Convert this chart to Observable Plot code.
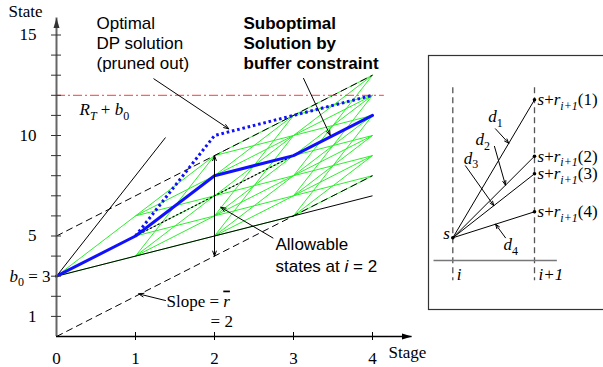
<!DOCTYPE html>
<html><head><meta charset="utf-8">
<script src="https://cdn.jsdelivr.net/npm/d3@7"></script>
<script src="https://cdn.jsdelivr.net/npm/@observablehq/plot@0.6"></script>
<style>
html,body{margin:0;padding:0;background:#fff;}
#wrap{position:relative;width:603px;height:367px;overflow:hidden;background:#fff;}
#main,#inset{position:absolute;}
#main{left:0;top:0;width:603px;height:367px;}
#inset{left:420px;top:47px;width:250px;height:270px;}
#wrap svg{max-width:none !important;}
</style></head><body>
<div id="wrap"><div id="main"></div><div id="inset"></div></div>
<script>
// ---------------- data ----------------
const stages = [0, 1, 2, 3, 4];
const b0 = 3;                       // initial buffer state
const rates = [5, 3, 2, 1];         // r(1)..r(4): state increments per stage
const rbar = 2;                     // average slope of the allowable band
const bandLow = 0;                  // intercept of lower dashed bound
const bandHigh = 5;                 // intercept of upper dashed bound
const RTplusB0 = 12;                // R_T + b0 level
const optimalPath = [3, 5, 10, 11, 12];
const suboptimalPath = [3, 5, 8, 9, 11];
const minRate = 1;
const maxRate = 5;
const maxRateEnd = 1.38;            // stage where the steep max-rate line stops
const redEnd = 4.15;
const averagePath = [{x: 1, y: 5}, {x: 3, y: 9}];
const yTicks = [1,2,3,4,5,6,7,8,9,10,11,12,13,14,15];
const yTickLabels = [1, 5, 10, 15];
const xTicks = [1, 2, 3, 4];
const xTickLabels = [0, 1, 2, 3, 4];
const yAxisTop = 15.85;
const xAxisEnd = 4.5;
const allowStage = 2, allowLow = 4, allowHigh = 9, allowMid = 6.5;

// inset (schematic, in its own units)
const insetRates = [6.9, 4.08, 3.2, 1.3];
const insetKeys = ["(1)", "(2)", "(3)", "(4)"];
const insetArrowT = [0.685, 0.645, 0.502, 0.523];
const insetArrowTails = [[0.522, 5.45], [0.51, 4.57], [0.155, 3.6], [0.645, 0.0]];
const insetDLabels = [[0.435, 6.38], [0.277, 5.22], [0.134, 4.3], [0.622, -0.03]];

const SERIF = "Liberation Serif, Times New Roman, serif";
const SANS = "Liberation Sans, Arial, Helvetica, sans-serif";
const GREEN = "#2def2d";
const BLUE = "#1010ff";

// ---------------- lattice edges from rates ----------------
const edges = [];
let level = [b0];
for (let i = 1; i < stages.length; i++) {
  const lo = bandLow + rbar * stages[i], hi = bandHigh + rbar * stages[i];
  const next = new Set();
  for (const s of level) for (const r of rates) {
    const t = s + r;
    if (t >= lo && t <= hi) { edges.push({x1: stages[i-1], y1: s, x2: stages[i], y2: t}); next.add(t); }
  }
  level = [...next];
}
const boundSolid = [
  {x1: 0, y1: b0, x2: 4, y2: b0 + minRate * 4},
  {x1: 0, y1: b0, x2: maxRateEnd, y2: b0 + maxRate * maxRateEnd}
];
const boundDashed = [
  {x1: 0, y1: bandLow, x2: 4, y2: bandLow + rbar * 4},
  {x1: 0, y1: bandHigh, x2: 4, y2: bandHigh + rbar * 4}
];
const subPts = stages.map((x, k) => ({x, y: suboptimalPath[k]}));
const optPts = stages.map((x, k) => ({x, y: optimalPath[k]})).slice(1);

const arrows = [
  {x1: 1.232, y1: 12.82, x2: 2.181, y2: 10.33},
  {x1: 3.127, y1: 12.84, x2: 3.464, y2: 10.01},
  {x1: 2.74, y1: 4.9, x2: 2.08, y2: 6.43},
  {x1: 1.38, y1: 1.79, x2: 1.04, y2: 2.12},
  {x1: allowStage, y1: allowMid, x2: allowStage, y2: allowHigh},
  {x1: allowStage, y1: allowMid, x2: allowStage, y2: allowLow}
];

const arrowHead = { draw(ctx) { ctx.moveTo(0, 0); ctx.lineTo(-3, 10); ctx.lineTo(3, 10); ctx.closePath(); } };

const main = Plot.plot({
  width: 603, height: 367,
  marginLeft: 56, marginRight: 231, marginTop: 34.5, marginBottom: 31,
  x: {domain: [0, 4], label: null},
  y: {domain: [0, 15], label: null},
  style: {fontFamily: SERIF, fontSize: "17px", background: "transparent"},
  marks: [
    Plot.link(edges, {x1: "x1", y1: "y1", x2: "x2", y2: "y2", stroke: GREEN, strokeWidth: 1}),
    Plot.link(boundSolid, {x1: "x1", y1: "y1", x2: "x2", y2: "y2", stroke: "#000", strokeWidth: 1}),
    Plot.link(boundDashed, {x1: "x1", y1: "y1", x2: "x2", y2: "y2", stroke: "#000", strokeWidth: 1, strokeDasharray: "7,4"}),
    Plot.line(averagePath, {x: "x", y: "y", stroke: "#000", strokeWidth: 1.2, strokeDasharray: "1.2,3"}),
    Plot.ruleY([RTplusB0], {x1: 0, x2: redEnd, stroke: "#ff3b3b", strokeWidth: 1, strokeDasharray: "9,3,2,3"}),
    Plot.line(subPts, {x: "x", y: "y", stroke: BLUE, strokeWidth: 3, strokeLinejoin: "round"}),
    Plot.line(optPts, {x: "x", y: "y", stroke: BLUE, strokeWidth: 3, strokeDasharray: "2.6,2.8", strokeLinecap: "butt"}),
    // axes
    Plot.ruleX([0], {y1: 0, y2: yAxisTop, stroke: "#666", strokeWidth: 2}),
    Plot.ruleY([0], {x1: 0, x2: xAxisEnd, stroke: "#000", strokeWidth: 1.3}),
    Plot.dot([{x: 0, y: yAxisTop}], {x: "x", y: "y", symbol: arrowHead, fill: "#333", stroke: "none"}),
    Plot.dot([{x: xAxisEnd, y: 0}], {x: "x", y: "y", symbol: arrowHead, fill: "#000", stroke: "none", rotate: 90}),
    Plot.axisY(yTicks, {anchor: "left", tickSize: 10, dx: 5, tickPadding: 15, label: null,
      tickFormat: d => yTickLabels.includes(d) ? String(d) : "", fontSize: 17, fontFamily: SERIF, stroke: "#333"}),
    Plot.axisX(xTicks, {anchor: "bottom", tickSize: 8, dy: -4, label: null, tickFormat: () => ""}),
    Plot.axisX(xTickLabels, {anchor: "bottom", tickSize: 0, tickPadding: 15.6, label: null, fontSize: 17, fontFamily: SERIF}),
    // annotation arrows
    Plot.arrow(arrows, {x1: "x1", y1: "y1", x2: "x2", y2: "y2", stroke: "#000", strokeWidth: 1, headLength: 8, headAngle: 40}),
    // texts
    Plot.text([{x: 0.506, y: 15.99, t: "Optimal\nDP solution\n(pruned out)"}], {x: "x", y: "y", text: "t", textAnchor: "start", lineAnchor: "top", lineHeight: 1.18, fontFamily: SANS, fontSize: 17}),
    Plot.text([{x: 2.367, y: 15.99, t: "Suboptimal\nSolution by\nbuffer constraint"}], {x: "x", y: "y", text: "t", textAnchor: "start", lineAnchor: "top", lineHeight: 1.18, fontFamily: SANS, fontSize: 17, fontWeight: "bold"}),
    Plot.text([{x: 2.772, y: 5.04, t: "Allowable\nstates at i = 2"}], {x: "x", y: "y", text: "t", textAnchor: "start", lineAnchor: "top", lineHeight: 1.26, fontFamily: SANS, fontSize: 17}),
    Plot.text([
      {x: -0.608, y: 16.49, t: "State"},
      {x: 4.203, y: -0.45, t: "Stage"},
      {x: 0.291, y: 11.6, t: "RT + b0"},
      {x: 1.392, y: 2.09, t: "Slope = rbar"},
      {x: 1.95, y: 1.05, t: "= 2"}
    ], {x: "x", y: "y", text: "t", textAnchor: "start", lineAnchor: "top", fontFamily: SERIF, fontSize: 17}),
    Plot.text([{x: -0.076, y: b0, t: "b0 = 3"}], {x: "x", y: "y", text: "t", textAnchor: "end", lineAnchor: "middle", fontFamily: SERIF, fontSize: 17})
  ]
});
document.getElementById("main").appendChild(main);

// ---------------- inset ----------------
const insetEnds = insetRates.map((r, k) => ({x: 1, y: r, key: "s+r" + "i+1" + insetKeys[k]}));
const insetLinks = insetRates.map(r => ({x1: 0, y1: 0, x2: 1, y2: r}));
const insetArrows = insetRates.map((r, k) => ({x1: insetArrowTails[k][0], y1: insetArrowTails[k][1], x2: insetArrowT[k], y2: insetArrowT[k] * r}));
const insetD = insetDLabels.map((p, k) => ({x: p[0], y: p[1], t: "d" + (k + 1)}));

const inset = Plot.plot({
  width: 250, height: 270,
  marginLeft: 8, marginTop: 8, marginRight: 62, marginBottom: 8,
  x: {domain: [0, 1], range: [32.3, 114], label: null, axis: null},
  y: {domain: [0, 1], range: [190.3, 170.3], label: null, axis: null},
  style: {fontFamily: SERIF, fontSize: "17px", background: "transparent", overflow: "visible", maxWidth: "none"},
  marks: [
    Plot.frame({stroke: "#333", strokeWidth: 1.2}),
    Plot.ruleX([0, 1], {y1: 7.5, y2: -2.15, stroke: "#555", strokeWidth: 1.3, strokeDasharray: "6,4"}),
    Plot.ruleY([-1.13], {x1: -0.23, x2: 1.28, stroke: "#777", strokeWidth: 1.5}),
    Plot.link(insetLinks, {x1: "x1", y1: "y1", x2: "x2", y2: "y2", stroke: "#000", strokeWidth: 1}),
    Plot.dot([{x: 0, y: 0}, ...insetEnds], {x: "x", y: "y", r: 1.8, fill: "#000", stroke: "none"}),
    Plot.arrow(insetArrows, {x1: "x1", y1: "y1", x2: "x2", y2: "y2", stroke: "#000", strokeWidth: 1, headLength: 7, headAngle: 40}),
    Plot.text(insetEnds, {x: "x", y: "y", text: "key", textAnchor: "start", lineAnchor: "middle", dx: 3, fontSize: 17}),
    Plot.text([{x: 0, y: 0.2, t: "s"}], {x: "x", y: "y", text: "t", textAnchor: "end", lineAnchor: "middle", dx: -3, fontStyle: "italic", fontSize: 17}),
    Plot.text([{x: 0, y: -1.53, t: "i"}, {x: 1, y: -1.53, t: "i+1"}], {x: "x", y: "y", text: "t", textAnchor: "start", lineAnchor: "top", dx: 4, fontStyle: "italic", fontSize: 17}),
    Plot.text(insetD, {x: "x", y: "y", text: "t", textAnchor: "start", lineAnchor: "top", fontSize: 17})
  ]
});
document.getElementById("inset").appendChild(inset);

// ---------------- rich text (italics, subscripts, overline) ----------------
const rich = {
  "b0 = 3": [["b", "i"], ["0", "s"], [" = 3", ""]],
  "RT + b0": [["R", "i"], ["T", "si"], [" + ", ""], ["b", "i"], ["0", "s"]],
  "Slope = rbar": [["Slope = ", ""], ["r", "io"]],
  "states at i = 2": [["states at ", ""], ["i", "i"], [" = 2", ""]],
  "d1": [["d", "i"], ["1", "s"]], "d2": [["d", "i"], ["2", "s"]],
  "d3": [["d", "i"], ["3", "s"]], "d4": [["d", "i"], ["4", "s"]]
};
insetKeys.forEach(k => { rich["s+ri+1" + k] = [["s", "i"], ["+", ""], ["r", "i"], ["i+1", "si"], [k, ""]]; });
const NS = "http://www.w3.org/2000/svg";
for (const root of [main, inset]) {
  root.querySelectorAll("text, tspan").forEach(el => {
    if (el.children.length) return;
    const segs = rich[el.textContent];
    if (!segs) return;
    el.textContent = "";
    let shifted = 0;
    for (const [t, st] of segs) {
      const ts = document.createElementNS(NS, "tspan");
      ts.textContent = t;
      if (st.includes("i")) ts.setAttribute("font-style", "italic");
      if (st.includes("o")) ts.setAttribute("text-decoration", "overline");
      const sub = st.includes("s");
      const want = sub ? 4.5 : 0;
      if (want !== shifted) { ts.setAttribute("dy", want - shifted); shifted = want; }
      if (sub) ts.setAttribute("font-size", "12px");
      el.appendChild(ts);
    }
  });
}
</script></body></html>
